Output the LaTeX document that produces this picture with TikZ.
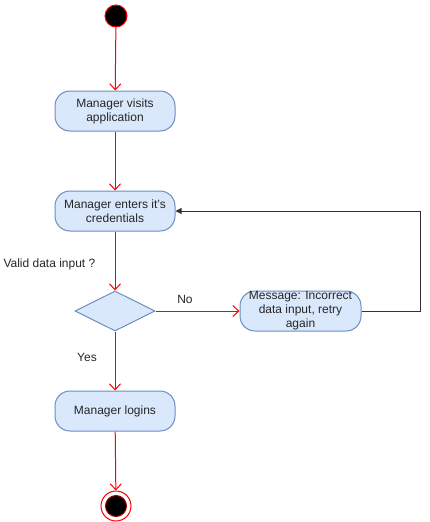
\documentclass[tikz,border=0pt]{standalone}
\usepackage{fontspec}
\setmainfont{Liberation Sans}
\usetikzlibrary{shapes.geometric,arrows.meta}
\definecolor{actfill}{HTML}{DAE8FC}
\definecolor{actline}{HTML}{6C8EBF}
\definecolor{loopline}{HTML}{333333}
\begin{document}
\begin{tikzpicture}[x=1pt, y=-1pt, line width=1pt,
  every node/.style={font=\fontsize{12pt}{14pt}\selectfont, text=black!85},
  act/.style={rectangle, rounded corners=15pt, draw=actline, fill=actfill, minimum width=120pt, minimum height=40pt, align=center, inner sep=1pt},
  dec/.style={diamond, draw=actline, fill=actfill, minimum width=80pt, minimum height=40pt, inner sep=0pt},
  flow/.style={red, -{Straight Barb[length=6pt,width=11pt]}},
  back/.style={loopline, -{Triangle[length=6pt,width=6pt]}}]
\useasboundingbox (0,0) rectangle (430,522);
\node[circle, fill=black, draw=red, minimum size=22pt, inner sep=0pt] (start) at (116,16){};
\node[act] (visit) at (115,111){Manager visits\\application};
\draw[flow](start) -- (visit);
\node[act] (enter) at (115,211){Manager enters it's\\credentials};
\draw[flow](visit) -- (enter);
\node[dec] (valid) at (115,311){};
\draw[flow](enter) -- (valid);
\node[anchor=west, inner sep=0pt] (validlbl) at (3,264){Valid data input ?};
\node[act, minimum width=121pt, inner sep=0pt] (msg) at (300.5,311){Message: Incorrect\\data input, retry\\again};
\draw[flow](valid) -- (msg);
\node (nolbl) at (185,299){No};
\draw[back](msg.east) -- (420,311) -- (420,211) -- (enter.east);
\node[act] (login) at (115,411){Manager logins};
\draw[flow](valid) -- (login);
\node (yeslbl) at (87,357){Yes};
\node[circle, draw=red, minimum size=30pt, inner sep=0pt] (stop) at (116,506){};
\node[circle, fill=black, draw=red!60!black, minimum size=21pt, inner sep=0pt] (stopdot) at (stop){};
\draw[flow](login) -- (stop);
\end{tikzpicture}
\end{document}
